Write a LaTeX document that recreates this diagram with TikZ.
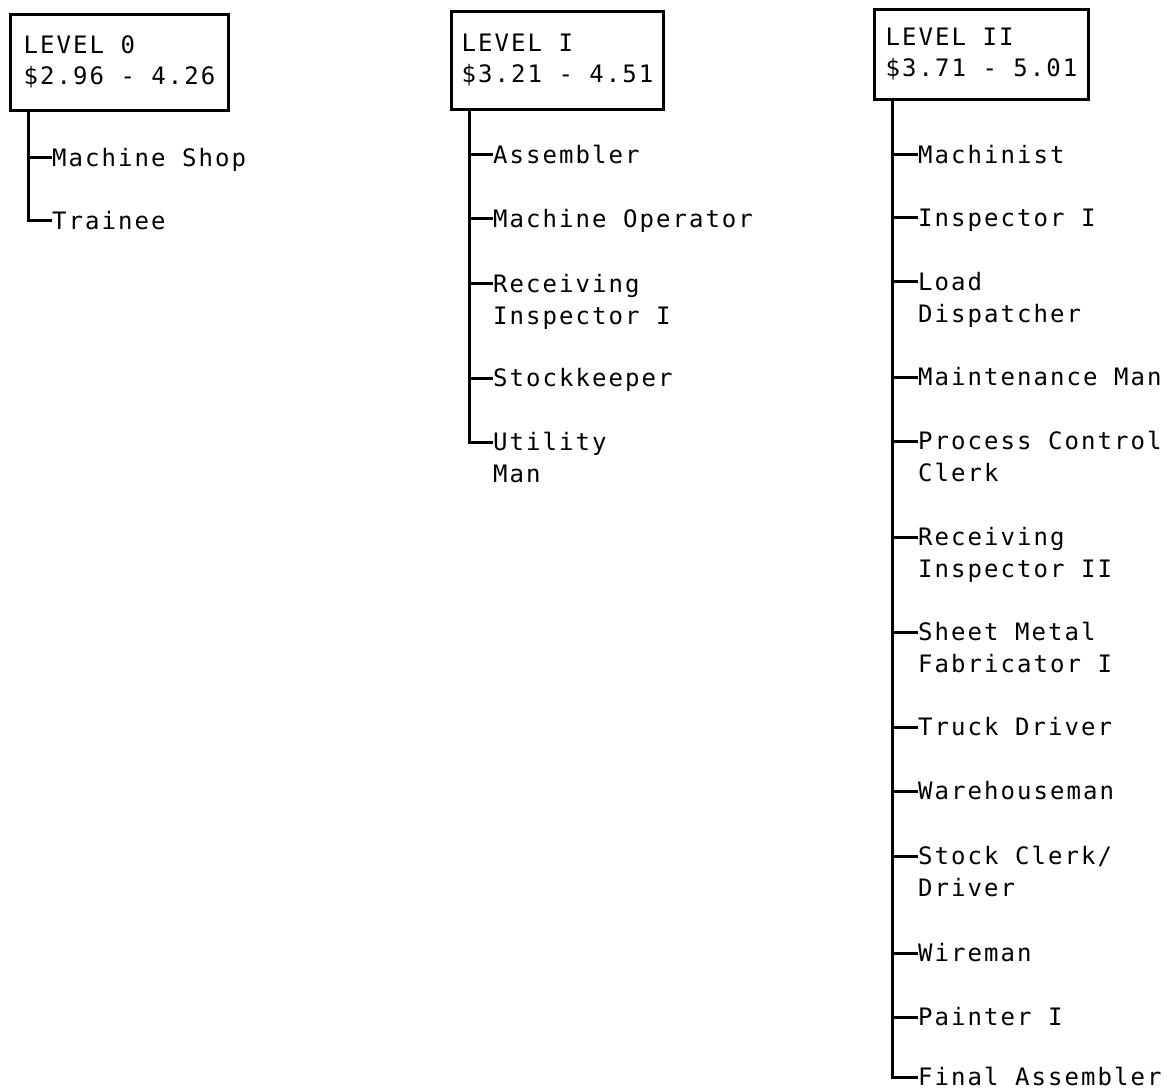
\documentclass[tikz,border=0pt]{standalone}
\usepackage{fontspec}
\newfontfamily\typefont[LetterSpace=8.5]{DejaVu Sans Mono}
\newcommand{\twoline}[2]{\begin{tabular}[t]{@{}l@{}}#1\\#2\end{tabular}}
\newcommand{\boxlines}[2]{\begin{tabular}{@{}l@{}}#1\\[-1pt]#2\end{tabular}}
\begin{document}
\begin{tikzpicture}[x=1pt,y=-1pt,
  every node/.style={font=\typefont\fontsize{24}{31.5}\selectfont},
  levelbox/.style={draw, line width=3pt, inner ysep=0pt, anchor=north west},
  job/.style={anchor=west, inner sep=0pt, text height=17.5pt, text depth=0pt},
  trunk/.style={line width=3pt}]
\useasboundingbox (0,0) rectangle (1167,1091);

% pay level boxes
\node[levelbox, minimum width=218pt, minimum height=96pt] (b0) at (9,13) {\boxlines{LEVEL 0}{\$2.96 - 4.26}};
\node[levelbox, minimum width=212pt, minimum height=98pt] (b1) at (450,10) {\boxlines{LEVEL I}{\$3.21 - 4.51}};
\node[levelbox, minimum width=214pt, minimum height=90pt] (b2) at (873,8) {\boxlines{LEVEL II}{\$3.71 - 5.01}};

% level 0 jobs
\node[job] (a1) at (52,158) {Machine Shop};
\node[job] (a2) at (52,221) {Trainee};

% level 1 jobs
\node[job] (c1) at (493,155) {Assembler};
\node[job] (c2) at (493,219) {Machine Operator};
\node[job] (c3) at (493,284) {\twoline{Receiving}{Inspector I}};
\node[job] (c4) at (493,378) {Stockkeeper};
\node[job] (c5) at (493,442) {\twoline{Utility}{Man}};

% level 2 jobs
\node[job] (d1)  at (918,155)  {Machinist};
\node[job] (d2)  at (918,218)  {Inspector I};
\node[job] (d3)  at (918,282)  {\twoline{Load}{Dispatcher}};
\node[job] (d4)  at (918,377)  {Maintenance Man};
\node[job] (d5)  at (918,441)  {\twoline{Process Control}{Clerk}};
\node[job] (d6)  at (918,537)  {\twoline{Receiving}{Inspector II}};
\node[job] (d7)  at (918,632)  {\twoline{Sheet Metal}{Fabricator I}};
\node[job] (d8)  at (918,727)  {Truck Driver};
\node[job] (d9)  at (918,791)  {Warehouseman};
\node[job] (d10) at (918,856)  {\twoline{Stock Clerk/}{Driver}};
\node[job] (d11) at (918,953)  {Wireman};
\node[job] (d12) at (918,1017) {Painter I};
\node[job] (d13) at (918,1077) {Final Assembler};

% branch lines
\foreach \j in {a1,a2}
  \draw[trunk] ([xshift=19pt]b0.south west) |- (\j.west);
\foreach \j in {c1,c2,c3,c4,c5}
  \draw[trunk] ([xshift=19pt]b1.south west) |- (\j.west);
\foreach \j in {d1,d2,d3,d4,d5,d6,d7,d8,d9,d10,d11,d12,d13}
  \draw[trunk] ([xshift=19pt]b2.south west) |- (\j.west);
\end{tikzpicture}
\end{document}
